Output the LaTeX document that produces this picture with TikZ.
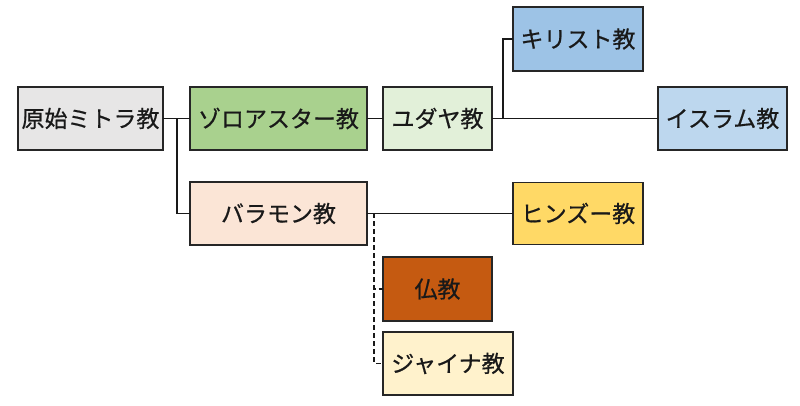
\documentclass[tikz,border=0pt]{standalone}
\usepackage{fontspec}
\newfontfamily\jp[FakeBold=0.6]{Noto Sans CJK JP}
\definecolor{cGray}{HTML}{E7E6E6}
\definecolor{cGreen}{HTML}{A9D18E}
\definecolor{cPeach}{HTML}{FBE5D6}
\definecolor{cLGreen}{HTML}{E2F0D9}
\definecolor{cBlue}{HTML}{9DC3E6}
\definecolor{cLBlue}{HTML}{BDD7EE}
\definecolor{cYellow}{HTML}{FFD966}
\definecolor{cBrown}{HTML}{C55A11}
\definecolor{cCream}{HTML}{FFF2CC}
\begin{document}
\begin{tikzpicture}[x=1pt,y=1pt,
  box/.style={draw=black!85, line width=1.8pt, rectangle, inner sep=0pt, outer sep=0pt,
    font=\jp\fontsize{23}{27}\selectfont, text=black!90},
  conn/.style={line width=1.8pt, black!90},
  dconn/.style={line width=1.4pt, black!90, dash pattern=on 5pt off 3pt}]
\useasboundingbox[fill=white] (0,0) rectangle (800,406);
\node[box, fill=cGray, minimum width=145, minimum height=63] (a) at (90.5,287.5) {原始ミトラ教};
\node[box, fill=cGreen, minimum width=177, minimum height=63] (b) at (278.5,287.5) {ゾロアスター教};
\node[box, fill=cPeach, minimum width=177, minimum height=63] (c) at (278.5,192.5) {バラモン教};
\node[box, fill=cLGreen, minimum width=109, minimum height=63] (d) at (437.5,287.5) {ユダヤ教};
\node[box, fill=cBlue, minimum width=130, minimum height=64] (e) at (578,367) {キリスト教};
\node[box, fill=cLBlue, minimum width=129, minimum height=63] (f) at (722.5,287.5) {イスラム教};
\node[box, fill=cYellow, minimum width=130, minimum height=62] (g) at (578,192.5) {ヒンズー教};
\node[box, fill=cBrown, minimum width=109, minimum height=64] (h) at (437.5,117) {仏教};
\node[box, fill=cCream, minimum width=130, minimum height=63] (i) at (448,42.5) {ジャイナ教};
\coordinate (j1) at (177,287.5);
\coordinate (j2) at (503,287.5);
\coordinate (j3) at (374,192.5);
\draw[conn] (a.east) -- (b.west);
\draw[conn] (j1) |- (c.west);
\draw[conn] (b.east) -- (d.west);
\draw[conn] (d.east) -- (f.west);
\draw[conn] (j2) |- (e.west);
\draw[conn] (c.east) -- (g.west);
\draw[dconn] (j3) |- (h.west);
\draw[dconn] (j3) |- (i.west);
\end{tikzpicture}
\end{document}
